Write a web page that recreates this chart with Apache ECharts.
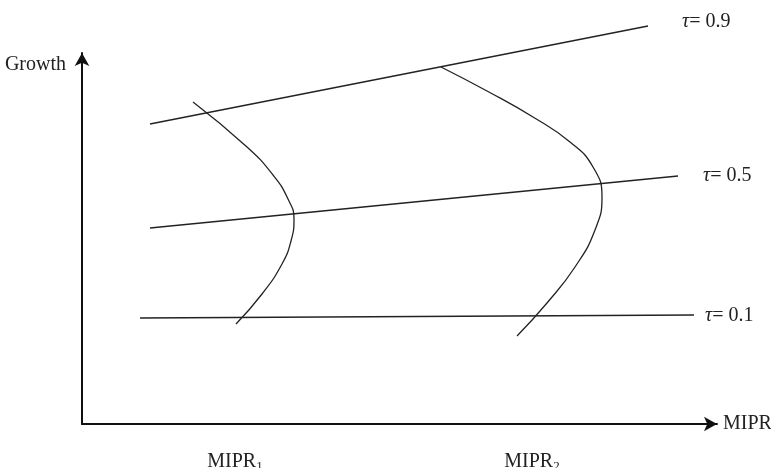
<!DOCTYPE html>
<html>
<head>
<meta charset="utf-8">
<script src="https://cdn.jsdelivr.net/npm/echarts@6/dist/echarts.min.js"></script>
<style>html,body{margin:0;padding:0;background:#fff}#c{width:771px;height:468px}</style>
</head>
<body>
<div id="c"></div>
<script>
// Quantile lines (x, growth) endpoints
var tauValues = ['0.9', '0.5', '0.1'];
var tau09 = [[68, 300], [566, 398]];
var tau05 = [[68, 196], [596, 248]];
var tau01 = [[58, 106], [612, 109]];
// Curves for MIPR1 and MIPR2
var curve1 = [[111, 322], [165, 277], [191, 249], [206, 225], [212, 205], [209, 183], [200, 160], [180, 130], [154, 100]];
var curve2 = [[359, 357], [405, 333], [451, 307], [488, 282], [511, 257], [520, 227], [513, 194], [493, 157], [465, 121], [435, 88]];
// x-axis category marks
var mprPositions = [153, 450];
var mprSubs = ['1', '2'];
var xName = 'MIPR';
var yName = 'Growth';

var FONT = 'Liberation Serif';
var COL = '#222';
var chart = echarts.init(document.getElementById('c'), null, {renderer: 'canvas'});

function tauLabel(v, dist, off) {
  return {
    show: true,
    formatter: '{t|τ}{n|= ' + v + '}',
    distance: dist,
    offset: off,
    rich: {
      t: {fontFamily: FONT, fontStyle: 'italic', fontSize: 20, color: COL},
      n: {fontFamily: FONT, fontSize: 20, color: COL}
    }
  };
}
function lineSeries(data, label, smooth) {
  var s = {
    type: 'line', data: data, showSymbol: false, smooth: smooth || false,
    clip: false, silent: true,
    lineStyle: {color: COL, width: 1.3}
  };
  if (label) s.endLabel = label;
  return s;
}

chart.setOption({
  animation: false,
  grid: {left: 82, right: 54, top: 53, bottom: 44, containLabel: false, outerBoundsMode: 'none'},
  xAxis: {
    type: 'value', min: 0, max: 635,
    name: xName, nameLocation: 'end', nameGap: 6,
    nameTextStyle: {fontFamily: FONT, fontSize: 20, color: COL, padding: [0, 0, 12, 0]},
    axisLine: {show: true, symbol: ['none', 'arrow'], symbolSize: [11, 13], lineStyle: {color: '#111', width: 2}},
    axisTick: {show: false},
    splitLine: {show: false},
    axisLabel: {
      customValues: mprPositions,
      margin: 26,
      formatter: function (v) {
        var i = mprPositions.indexOf(v);
        return i < 0 ? '' : '{m|MIPR}{s|' + mprSubs[i] + '}';
      },
      rich: {
        m: {fontFamily: FONT, fontSize: 20, color: COL},
        s: {fontFamily: FONT, fontSize: 13, color: COL, padding: [10, 0, 0, 0]}
      }
    }
  },
  yAxis: {
    type: 'value', min: 0, max: 371,
    name: yName, nameLocation: 'end', nameGap: -12,
    nameTextStyle: {fontFamily: FONT, fontSize: 20, color: COL, align: 'right', verticalAlign: 'middle', padding: [0, 16, 0, 0]},
    axisLine: {show: true, symbol: ['none', 'arrow'], symbolSize: [11, 13], lineStyle: {color: '#111', width: 2}},
    axisTick: {show: false},
    splitLine: {show: false},
    axisLabel: {show: false}
  },
  series: [
    lineSeries(tau09, tauLabel(tauValues[0], 34, [0, -4])),
    lineSeries(tau05, tauLabel(tauValues[1], 25, [0, 0])),
    lineSeries(tau01, tauLabel(tauValues[2], 11, [0, 1])),
    lineSeries(curve1, null, 0.5),
    lineSeries(curve2, null, 0.5)
  ]
});
</script>
</body>
</html>
